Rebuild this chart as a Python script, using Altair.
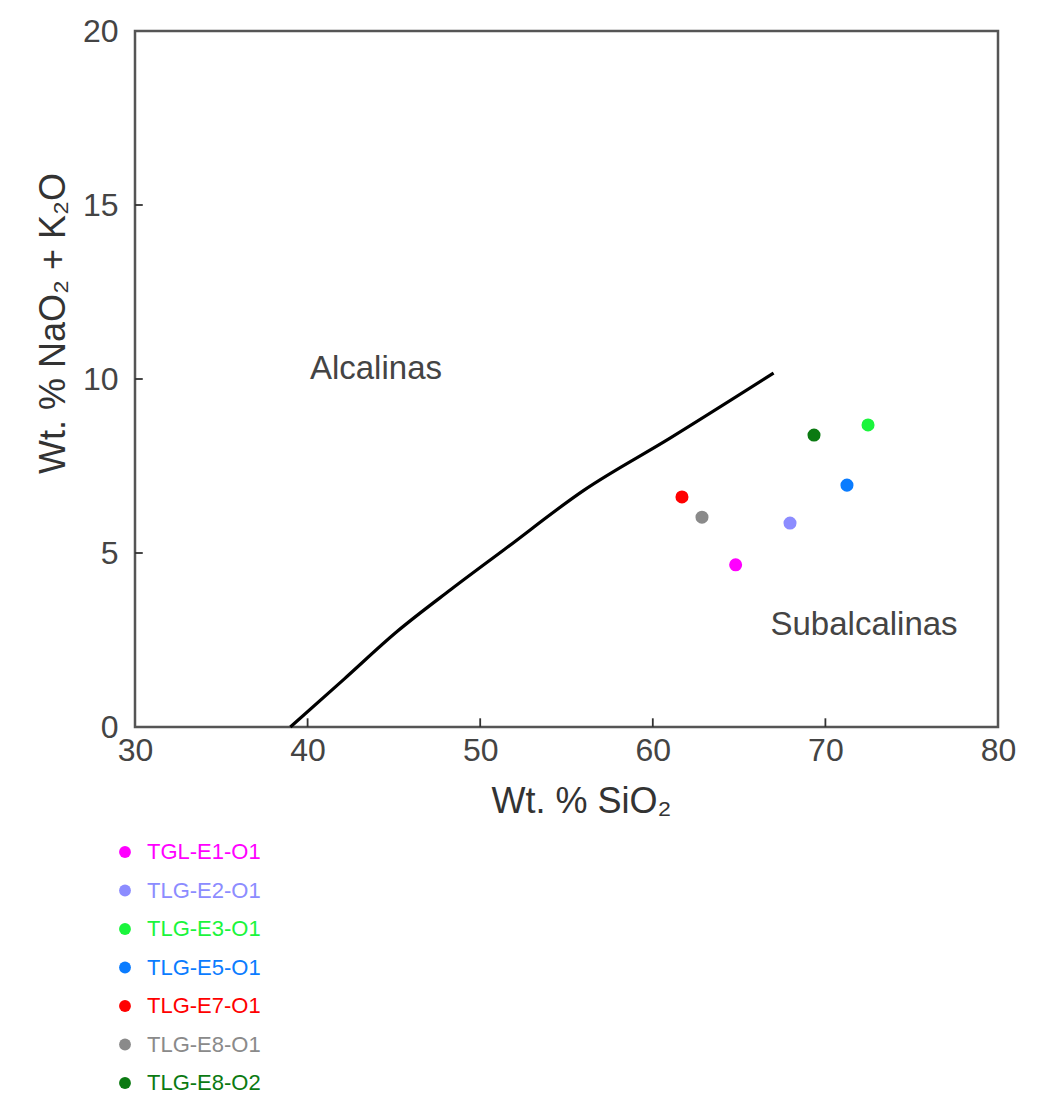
import altair as alt
import pandas as pd

# ---- data ----
samples = ["TGL-E1-O1", "TLG-E2-O1", "TLG-E3-O1", "TLG-E5-O1",
           "TLG-E7-O1", "TLG-E8-O1", "TLG-E8-O2"]
sio2 = [64.8, 67.95, 72.47, 71.25, 61.69, 62.85, 69.34]
alkalis = [4.66, 5.86, 8.68, 6.95, 6.61, 6.03, 8.39]
colors = ["#ff00ff", "#8c8cff", "#1af53c", "#0a7cff",
          "#ff0000", "#8a8a8a", "#0b7a12"]

# Irvine & Baragar alkaline / subalkaline divide
line_sio2 = [39.0, 42.1, 45.2, 48.3, 51.4, 56.0, 61.0, 67.0]
line_alk = [0.0, 1.37, 2.75, 3.95, 5.1, 6.8, 8.3, 10.17]

region_labels = ["Alcalinas", "Subalcalinas"]
region_x = [43.96, 72.24]
region_y = [10.3, 2.93]

x_ticks = [30, 40, 50, 60, 70, 80]
y_ticks = [0, 5, 10, 15, 20]

FONT = "Liberation Sans"
TICK_X_LEN = 0.45   # inward tick length in SiO2 units (~8 px)
TICK_Y_LEN = 0.25   # inward tick length in alkali units (~8 px)

pts_df = pd.DataFrame({"sample": samples, "sio2": sio2, "alk": alkalis})
line_df = pd.DataFrame({"sio2": line_sio2, "alk": line_alk, "i": list(range(len(line_sio2)))})
reg_df = pd.DataFrame({"label": region_labels, "sio2": region_x, "alk": region_y})
inner_x = x_ticks[1:-1]
inner_y = y_ticks[1:-1]
xt_df = pd.DataFrame({"v": inner_x,
                      "b0": [y_ticks[0]] * len(inner_x),
                      "b1": [y_ticks[0] + TICK_Y_LEN] * len(inner_x)})
yt_df = pd.DataFrame({"v": inner_y,
                      "b0": [x_ticks[0]] * len(inner_y),
                      "b1": [x_ticks[0] + TICK_X_LEN] * len(inner_y)})

xscale = alt.Scale(domain=[30, 80], nice=False, zero=False)
yscale = alt.Scale(domain=[0, 20], nice=False)
cscale = alt.Scale(domain=samples, range=colors)

x_axis = alt.Axis(values=x_ticks, ticks=False, domain=False, grid=False,
                  labelFlush=False, labelOverlap=False,
                  labelPadding=8, labelFontSize=32, labelColor="#444",
                  labelFont=FONT, title="Wt. % SiO₂", titleFont=FONT,
                  titleFontSize=36, titleFontWeight="normal", titleColor="#333",
                  titlePadding=18, titleX=446)
y_axis = alt.Axis(values=y_ticks, ticks=False, domain=False, grid=False,
                  labelFlush=False, labelOverlap=False,
                  labelPadding=17, labelFontSize=32, labelColor="#444",
                  labelFont=FONT, title="Wt. % NaO₂ + K₂O", titleFont=FONT,
                  titleFontSize=36, titleFontWeight="normal", titleColor="#333",
                  titlePadding=10, titleY=292)

line = alt.Chart(line_df).mark_line(color="black", strokeWidth=3.2,
                                    interpolate="monotone").encode(
    x=alt.X("sio2:Q", scale=xscale, axis=x_axis),
    y=alt.Y("alk:Q", scale=yscale, axis=y_axis),
    order="i:Q",
)

points = alt.Chart(pts_df).mark_circle(size=170, opacity=1).encode(
    x=alt.X("sio2:Q", scale=xscale),
    y=alt.Y("alk:Q", scale=yscale),
    color=alt.Color("sample:N", scale=cscale, legend=None),
)

xticks = alt.Chart(xt_df).mark_rule(color="#333", strokeWidth=1.8).encode(
    x=alt.X("v:Q", scale=xscale),
    y=alt.Y("b0:Q", scale=yscale),
    y2="b1:Q",
)
yticks = alt.Chart(yt_df).mark_rule(color="#333", strokeWidth=1.8).encode(
    y=alt.Y("v:Q", scale=yscale),
    x=alt.X("b0:Q", scale=xscale),
    x2="b1:Q",
)

regions = alt.Chart(reg_df).mark_text(font=FONT, fontSize=33, color="#444",
                                      align="center", baseline="middle").encode(
    x=alt.X("sio2:Q", scale=xscale),
    y=alt.Y("alk:Q", scale=yscale),
    text="label:N",
)

main = alt.layer(line, points, xticks, yticks, regions)

# ---- custom legend below the plot ----
leg_df = pd.DataFrame({"sample": samples})
leg_y = alt.Y("sample:N", scale=alt.Scale(type="point", domain=samples,
                                          range=[821, 1052], padding=0),
              axis=None, sort=samples)
leg_pts = alt.Chart(leg_df).mark_circle(size=140, opacity=1).encode(
    x=alt.value(-10),
    y=leg_y,
    color=alt.Color("sample:N", scale=cscale, legend=None),
)
leg_txt = alt.Chart(leg_df).mark_text(font=FONT, fontSize=22, align="left",
                                      baseline="middle").encode(
    x=alt.value(12),
    y=leg_y,
    text="sample:N",
    color=alt.Color("sample:N", scale=cscale, legend=None),
)
legend = alt.layer(leg_pts, leg_txt)

chart = alt.layer(main, legend).resolve_scale(y="independent").properties(
    width=863, height=696,
    padding={"left": 135, "top": 31, "right": 53, "bottom": 377},
    autosize=alt.AutoSizeParams(type="none"),
    background="white",
).configure_view(stroke="#555", strokeWidth=2.5)

chart.save("out.html", embed_options={"renderer": "svg", "actions": False})
